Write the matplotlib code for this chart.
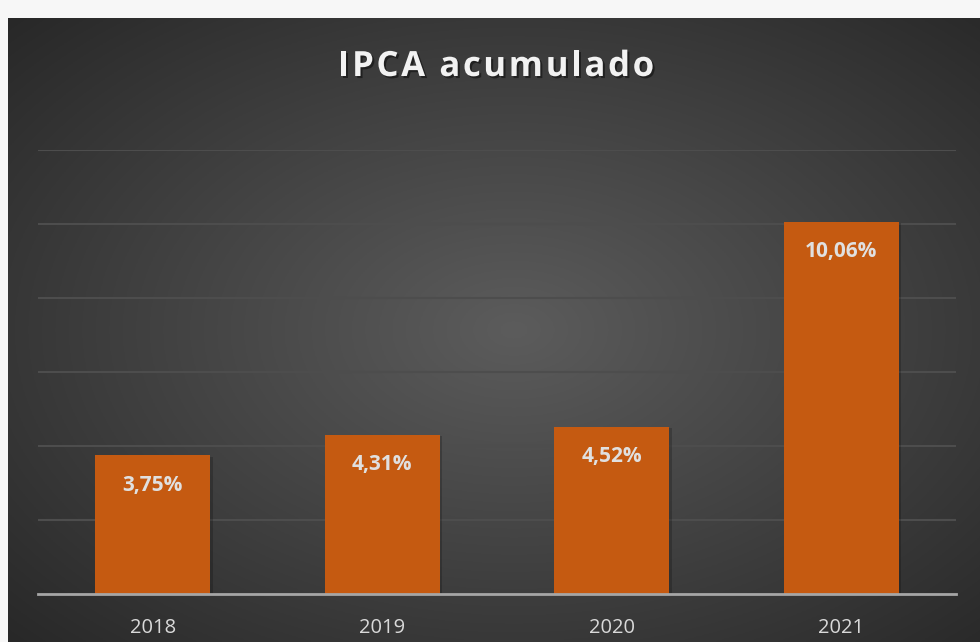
import numpy as np
import matplotlib.pyplot as plt
import matplotlib.patheffects as pe

# data
years = ['2018', '2019', '2020', '2021']
ipca = [3.75, 4.31, 4.52, 10.06]
labels = ['3,75%', '4,31%', '4,52%', '10,06%']
title = 'IPCA acumulado'

W, H = 980, 642
fig = plt.figure(figsize=(W / 100, H / 100), dpi=100)
fig.patch.set_facecolor('#f7f7f7')

# dark panel with radial gradient
bg = fig.add_axes([8 / W, 0, (W - 8) / W, (H - 18) / H])
bg.set_axis_off()
yy, xx = np.mgrid[0:1:300j, 0:1:450j]
r = np.sqrt(((xx - 0.52) / 0.75) ** 2 + ((yy - 0.5) / 0.75) ** 2)
r = np.clip(r, 0, 1)
shade = 0x5c / 255 * (1 - r) + 0x26 / 255 * r
bg.imshow(np.dstack([shade] * 3), extent=[0, 1, 0, 1], aspect='auto')
bg.set_xlim(0, 1)
bg.set_ylim(0, 1)

ax = fig.add_axes([38 / W, 48 / H, 918 / W, 444 / H])
ax.patch.set_alpha(0)
x = np.arange(len(years))
bars = ax.bar(x, ipca, width=0.5, color='#c55a11', zorder=3)
for b in bars:
    b.set_path_effects([pe.withSimplePatchShadow(offset=(2, -1), shadow_rgbFace='black', alpha=0.2)])

for xi, v, lab in zip(x, ipca, labels):
    ax.annotate(lab, (xi, v), xytext=(0, -30), textcoords='offset pixels',
                ha='center', va='center', color='#e0e0e0', fontsize=15, fontweight='bold',
                family='Open Sans', zorder=4)

ax.set_xlim(-0.5, 3.5)
ax.set_ylim(0, 12)
ax.set_yticks(np.arange(2, 13, 2))
ax.yaxis.grid(True, color='#4d4d4d', lw=1.5, zorder=0)
ax.set_yticklabels([])
ax.tick_params(axis='y', length=0)
ax.set_xticks(x)
ax.set_xticklabels(years, color='#d9d9d9', fontsize=14.5, family='Open Sans')
ax.tick_params(axis='x', length=0, pad=17)
for s in ['top', 'right', 'left']:
    ax.spines[s].set_visible(False)
ax.spines['bottom'].set_color('#a6a6a6')
ax.spines['bottom'].set_linewidth(2)
ax.spines['bottom'].set_zorder(5)

# title drawn char by char to get the wide letter spacing
tprops = dict(fontsize=25, fontweight='bold', family='Open Sans')
renderer = fig.canvas.get_renderer()

def text_w(s):
    t = fig.text(0, 0, s, **tprops)
    w = t.get_window_extent(renderer).width
    t.remove()
    return w

spacing = 2.6
total = text_w(title) + spacing * (len(title) - 1)
x0 = 496 - total / 2
shadow = [pe.withSimplePatchShadow(offset=(1.5, -1.5), shadow_rgbFace='black', alpha=0.45)]
for i, ch in enumerate(title):
    if ch == ' ':
        continue
    left = text_w(title[:i + 1]) - text_w(ch) + i * spacing
    fig.text((x0 + left) / W, 1 - 67 / H, ch, ha='left', va='center', color='#f2f2f2',
             path_effects=shadow, **tprops)

fig.savefig('out.png', dpi=100, facecolor=fig.get_facecolor())
